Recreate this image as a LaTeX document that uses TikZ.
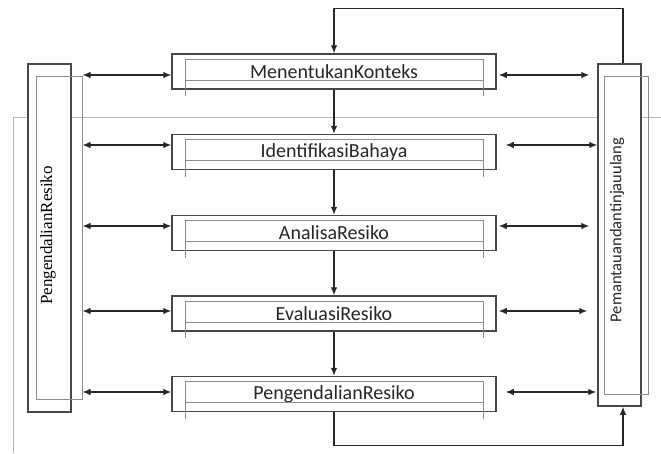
\documentclass[tikz,border=0pt]{standalone}
\usepackage{fontspec}
\setmainfont{Carlito}
\newfontfamily\tnrfont{Liberation Serif}
\usetikzlibrary{arrows.meta,calc}
\begin{document}
\begin{tikzpicture}[x=1pt,y=-1pt,
  outer/.style={draw=black!72,line width=1.5pt,fill=white,inner sep=0pt},
  innerg/.style={draw=black!45,line width=1pt},
  tip/.tip={Latex[length=8pt,width=6.5pt]},
  conn/.style={draw=black!85,line width=1.1pt,-tip},
  dbl/.style={draw=black!85,line width=1.1pt,tip-tip},
  lbl/.style={font=\fontsize{20}{23}\selectfont,text=black!85},
  artifact/.style={draw=black!28,line width=0.9pt}]
\useasboundingbox (0,0) rectangle (661,453);
% scan artifacts
\draw[artifact] (13,453) -- (13,117) -- (661,117);
% left box
\node[outer,minimum width=43pt,minimum height=348pt] (L) at (49.5,238) {};
\node[innerg,inner sep=0pt,minimum width=46pt,minimum height=323pt] (Li) at (59,237.5) {};
\node[rotate=90,text=black,font=\fontsize{17}{20}\selectfont] (Lt) at (48,235.5) {\tnrfont PengendalianResiko};
% right box
\node[outer,minimum width=43pt,minimum height=342pt] (R) at (619.5,235) {};
\node[innerg,inner sep=0pt,minimum width=44pt,minimum height=318pt] (Ri) at (626,235) {};
\node[rotate=90,text=black!85,font=\fontsize{16.5}{20}\selectfont] (Rt) at (617,230) {Pemantauandantinjauulang};
% centre boxes
\foreach \i/\y/\t in {1/71.5/MenentukanKonteks,2/152/IdentifikasiBahaya,3/233/AnalisaResiko,4/313.5/EvaluasiResiko,5/394/PengendalianResiko}{
  \node[outer,lbl,minimum width=324pt,minimum height=35pt] (b\i) at (334,\y) {\t};
  \draw[innerg] ($(b\i.north west)+(14,6)$) -- ($(b\i.north east)+(-13,6)$);
  \draw[innerg] ($(b\i.north west)+(14,27)$) -- ($(b\i.north east)+(-13,27)$);
  \draw[innerg] ($(b\i.north west)+(14,6)$) -- ($(b\i.north west)+(14,43)$);
  \draw[innerg] ($(b\i.north east)+(-13,6)$) -- ($(b\i.north east)+(-13,43)$);
}
% vertical flow
\draw[conn] (b1.south) -- (b2.north);
\draw[conn] (b2.south) -- (b3.north);
\draw[conn] (b3.south) -- (b4.north);
\draw[conn] (b4.south) -- (b5.north);
% feedback loops
\draw[conn] ([xshift=3.5pt]R.north) -- ++(0,-55) -| (b1.north);
\draw[conn] (b5.south) -- ++(0,33) -| ([xshift=3.5pt]R.south);
% side arrows
\foreach \i/\y/\s/\e in {1/75/2/8,2/145/9/0,3/226/2/8,4/311/2/10,5/392/9/1}{
  \draw[dbl] (Li.east |- 0,\y) -- (b\i.west |- 0,\y);
  \draw[dbl] ([xshift=\s pt]b\i.east |- 0,\y) -- ([xshift=-\e pt]R.west |- 0,\y);
}
\end{tikzpicture}
\end{document}
